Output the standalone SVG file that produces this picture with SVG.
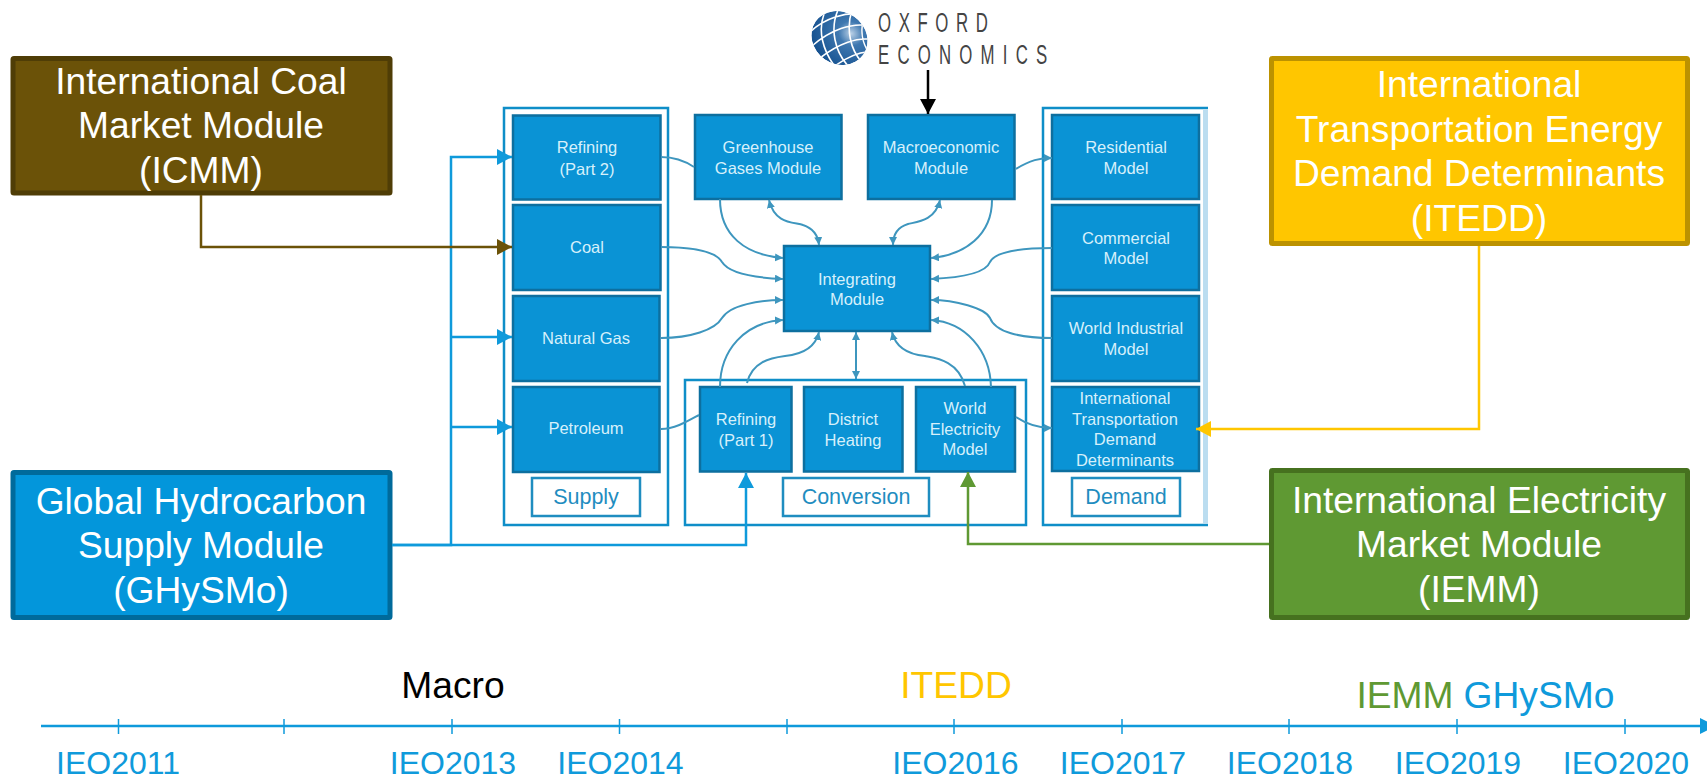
<svg xmlns="http://www.w3.org/2000/svg" width="1707" height="780" viewBox="0 0 1707 780">
<style>
text{font-family:"Liberation Sans",Arial,sans-serif;text-anchor:middle}
.big{font-size:37.2px;fill:#fff}
.in{font-size:16.5px;fill:#d6f0fb}
.lab{font-size:21.5px;fill:#1f8dc0}
.n{fill:#0a93d5;stroke:#0d6f9f;stroke-width:2.5}
.c{fill:#fff;stroke:#0f8ec8;stroke-width:2.5}
.l{fill:#fff;stroke:#1f8dc0;stroke-width:2.5}
.cv{fill:none;stroke:#3e96be;stroke-width:2}
.pl{fill:none;stroke-width:2.5}
.ie{font-size:32px;fill:#0f9adb}
.t{stroke:#0f9adb;stroke-width:1.5}
.tl{font-size:37.2px}
.ox{font-size:28px;fill:#444;text-anchor:start}
</style>
<defs>
<marker id="s" markerUnits="userSpaceOnUse" markerWidth="9" markerHeight="9" refX="8" refY="4" orient="auto-start-reverse"><path d="M0,0L8,4L0,8z" fill="#3e96be"/></marker>
<marker id="bl" markerUnits="userSpaceOnUse" markerWidth="16" markerHeight="16" refX="15" refY="8" orient="auto"><path d="M0,0L15,8L0,16z" fill="#0f9adb"/></marker>
<marker id="br" markerUnits="userSpaceOnUse" markerWidth="16" markerHeight="16" refX="15" refY="8" orient="auto"><path d="M0,0L15,8L0,16z" fill="#6b5208"/></marker>
<marker id="ye" markerUnits="userSpaceOnUse" markerWidth="16" markerHeight="16" refX="15" refY="8" orient="auto"><path d="M0,0L15,8L0,16z" fill="#ffc600"/></marker>
<marker id="gr" markerUnits="userSpaceOnUse" markerWidth="16" markerHeight="16" refX="15" refY="8" orient="auto"><path d="M0,0L15,8L0,16z" fill="#5f9933"/></marker>
<marker id="bk" markerUnits="userSpaceOnUse" markerWidth="16" markerHeight="16" refX="15" refY="8" orient="auto"><path d="M0,0L15,8L0,16z" fill="#000"/></marker>
<radialGradient id="gl" cx="0.62" cy="0.3" r="0.75"><stop offset="0" stop-color="#b9d0e6"/><stop offset="0.3" stop-color="#3f78b0"/><stop offset="1" stop-color="#134f8e"/></radialGradient>
<clipPath id="gc"><ellipse cx="839.5" cy="38" rx="29" ry="26" transform="rotate(35 839.5 38)"/></clipPath>
</defs>
<rect width="1707" height="780" fill="#fff"/>

<g id="supply-group"><rect class="c" x="504" y="108" width="164" height="417"/></g>
<g id="conversion-group"><rect class="c" x="685" y="380" width="341" height="145"/></g>
<g id="demand-group"><path d="M1208,108H1043V525H1208" class="c"/><rect x="1203" y="110" width="5" height="414" fill="#bbddf0"/></g>

<g id="refining2"><rect class="n" x="513" y="115.500" width="147.500" height="84"/><text class="in" x="587" y="153">Refining</text><text class="in" x="587" y="175">(Part 2)</text></g>
<g id="coal"><rect class="n" x="513" y="205" width="147.500" height="85"/><text class="in" x="587" y="253">Coal</text></g>
<g id="natural-gas"><rect class="n" x="513" y="296" width="146.500" height="85"/><text class="in" x="586" y="344">Natural Gas</text></g>
<g id="petroleum"><rect class="n" x="513" y="387" width="146.500" height="85"/><text class="in" x="586" y="434">Petroleum</text></g>
<g id="supply"><rect class="l" x="532" y="478" width="108" height="38"/><text class="lab" x="586" y="504">Supply</text></g>
<g id="greenhouse"><rect class="n" x="695" y="115" width="146.500" height="84"/><text class="in" x="768" y="153">Greenhouse</text><text class="in" x="768" y="174">Gases Module</text></g>
<g id="macroeconomic"><rect class="n" x="868" y="115" width="146.500" height="84"/><text class="in" x="941" y="153">Macroeconomic</text><text class="in" x="941" y="174">Module</text></g>
<g id="residential"><rect class="n" x="1052" y="115" width="147" height="84"/><text class="in" x="1126" y="153">Residential</text><text class="in" x="1126" y="174">Model</text></g>
<g id="commercial"><rect class="n" x="1052" y="205" width="147" height="85"/><text class="in" x="1126" y="244">Commercial</text><text class="in" x="1126" y="264">Model</text></g>
<g id="world-industrial"><rect class="n" x="1052" y="296" width="147" height="85"/><text class="in" x="1126" y="334">World Industrial</text><text class="in" x="1126" y="355">Model</text></g>
<g id="itdd"><rect class="n" x="1052" y="387" width="147" height="84"/><text class="in" x="1125" y="404">International</text><text class="in" x="1125" y="425">Transportation</text><text class="in" x="1125" y="445">Demand</text><text class="in" x="1125" y="466">Determinants</text></g>
<g id="demand"><rect class="l" x="1072" y="478" width="108" height="38"/><text class="lab" x="1126" y="504">Demand</text></g>
<g id="integrating"><rect class="n" x="784" y="246" width="146" height="85"/><text class="in" x="857" y="285">Integrating</text><text class="in" x="857" y="305">Module</text></g>
<g id="refining1"><rect class="n" x="700" y="387" width="91.500" height="84.500"/><text class="in" x="746" y="425">Refining</text><text class="in" x="746" y="446">(Part 1)</text></g>
<g id="district"><rect class="n" x="804" y="387" width="98.500" height="84.500"/><text class="in" x="853" y="425">District</text><text class="in" x="853" y="446">Heating</text></g>
<g id="world-electricity"><rect class="n" x="916" y="387" width="99" height="84.500"/><text class="in" x="965" y="414">World</text><text class="in" x="965" y="435">Electricity</text><text class="in" x="965" y="455">Model</text></g>
<g id="conversion"><rect class="l" x="783" y="478" width="146" height="38"/><text class="lab" x="856" y="504">Conversion</text></g>

<g id="icmm"><rect x="13" y="58.500" width="377" height="134.500" rx="1" fill="#6b5208" stroke="#4f3d06" stroke-width="5"/><text class="big" x="201" y="94">International Coal</text><text class="big" x="201" y="138">Market Module</text><text class="big" x="201" y="183">(ICMM)</text></g>
<g id="ghysmo"><rect x="13" y="472.500" width="377" height="145" rx="1" fill="#0396db" stroke="#006a9b" stroke-width="5"/><text class="big" x="201" y="514">Global Hydrocarbon</text><text class="big" x="201" y="558">Supply Module</text><text class="big" x="201" y="603">(GHySMo)</text></g>
<g id="itedd"><rect x="1271.500" y="58.500" width="416" height="185" rx="1" fill="#ffc600" stroke="#bc9200" stroke-width="5"/><text class="big" x="1479" y="97">International</text><text class="big" x="1479" y="142">Transportation Energy</text><text class="big" x="1479" y="186">Demand Determinants</text><text class="big" x="1479" y="231">(ITEDD)</text></g>
<g id="iemm"><rect x="1271.500" y="470.500" width="416" height="147" rx="1" fill="#5f9933" stroke="#46711f" stroke-width="5"/><text class="big" x="1479" y="513">International Electricity</text><text class="big" x="1479" y="557">Market Module</text><text class="big" x="1479" y="602">(IEMM)</text></g>

<g id="oxford-economics">
<g clip-path="url(#gc)"><ellipse cx="839.5" cy="38" rx="29" ry="26" transform="rotate(35 839.5 38)" fill="url(#gl)"/>
<path d="M810,32C825,18 845,12 862,14M812,46C830,30 852,22 870,26M820,58C838,44 858,36 874,40M832,68C848,56 862,50 876,52M824,14C818,30 822,50 836,68M838,10C830,28 834,52 850,68M852,10C846,28 850,50 862,62M864,16C860,30 862,44 870,54" fill="none" stroke="#fff" stroke-width="1.600"/></g>
<text class="ox" transform="translate(878,32) scale(0.6,1)" x="0" y="0" textLength="183" lengthAdjust="spacing">OXFORD</text>
<text class="ox" transform="translate(878,64) scale(0.6,1)" x="0" y="0" textLength="282" lengthAdjust="spacing">ECONOMICS</text>
</g>

<g id="connectors">
<path class="cv" d="M661,157C675,157 685,161 694,167"/>
<path class="cv" d="M720,199C720,235 745,255 783,258" marker-end="url(#s)"/>
<path class="cv" d="M769,200C775,225 795,222 803,225C812,228 818,235 819,245" marker-start="url(#s)" marker-end="url(#s)"/>
<path class="cv" d="M661,247C690,247 715,250 722,262C730,275 760,278 783,279" marker-end="url(#s)"/>
<path class="cv" d="M661,338C690,338 715,330 722,318C730,305 760,300 783,300" marker-end="url(#s)"/>
<path class="cv" d="M720,387C720,350 745,322 783,320" marker-end="url(#s)"/>
<path class="cv" d="M747,383C752,362 770,358 785,356C805,354 816,345 819,332" marker-end="url(#s)"/>
<path class="cv" d="M856,332V379" marker-start="url(#s)" marker-end="url(#s)"/>
<path class="cv" d="M965,386C958,360 935,358 925,356C905,354 895,345 892,332" marker-end="url(#s)"/>
<path class="cv" d="M991,387C990,350 965,322 931,320" marker-end="url(#s)"/>
<path class="cv" d="M992,200C992,235 965,255 931,258" marker-end="url(#s)"/>
<path class="cv" d="M940,200C935,222 915,222 908,224C898,227 893,235 893,245" marker-start="url(#s)" marker-end="url(#s)"/>
<path class="cv" d="M1016,169C1030,160 1040,158 1052,158" marker-end="url(#s)"/>
<path class="cv" d="M1052,248C1020,248 995,252 990,262C985,275 955,278 931,279" marker-end="url(#s)"/>
<path class="cv" d="M1052,338C1020,338 995,332 990,318C985,308 955,300 931,300" marker-end="url(#s)"/>
<path class="cv" d="M1016,417C1028,425 1040,428 1052,428" marker-end="url(#s)"/>
<path class="cv" d="M661,429C675,429 688,421 699,415"/>
<path class="pl" stroke="#0f9adb" d="M392,545H451V157H512" marker-end="url(#bl)"/>
<path class="pl" stroke="#0f9adb" d="M451,337H512" marker-end="url(#bl)"/>
<path class="pl" stroke="#0f9adb" d="M451,427H512" marker-end="url(#bl)"/>
<path class="pl" stroke="#0f9adb" d="M392,545H746V473" marker-end="url(#bl)"/>
<path class="pl" stroke="#6b5208" d="M201,195V247H512" marker-end="url(#br)"/>
<path class="pl" stroke="#ffc600" d="M1479,246V429H1196" marker-end="url(#ye)"/>
<path class="pl" stroke="#5f9933" d="M1269,544H968V472" marker-end="url(#gr)"/>
<path class="pl" stroke="#000" d="M928,70V114" marker-end="url(#bk)"/>
</g>

<g id="timeline">
<path class="pl" stroke="#0f9adb" d="M41,726H1700"/>
<path d="M1700,718L1716,726L1700,734z" fill="#0f9adb"/>
<path class="t" d="M118.500,719V734M284,719V734M452,719V734M619.500,719V734M787,719V734M954,719V734M1122,719V734M1289,719V734M1457,719V734M1625,719V734"/>
<text class="ie" x="118" y="774">IEO2011</text>
<text class="ie" x="453" y="774">IEO2013</text>
<text class="ie" x="620.500" y="774">IEO2014</text>
<text class="ie" x="955.500" y="774">IEO2016</text>
<text class="ie" x="1123" y="774">IEO2017</text>
<text class="ie" x="1290" y="774">IEO2018</text>
<text class="ie" x="1458" y="774">IEO2019</text>
<text class="ie" x="1626" y="774">IEO2020</text>
<text class="tl" x="453" y="698" fill="#000">Macro</text>
<text class="tl" x="956" y="698" fill="#ffc600">ITEDD</text>
<text class="tl" x="1405" y="708" fill="#5f9933">IEMM</text>
<text class="tl" x="1539" y="708" fill="#0f9adb">GHySMo</text>
</g>
</svg>
